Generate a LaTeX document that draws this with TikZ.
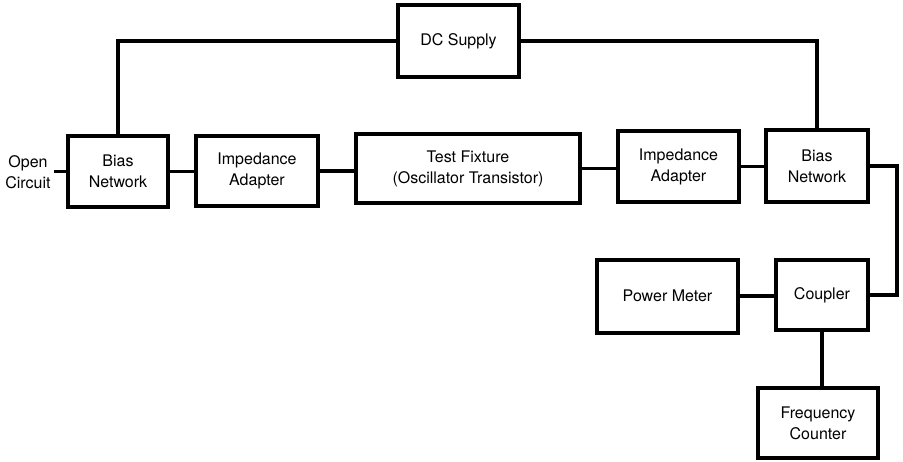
\documentclass[tikz,border=0pt]{standalone}
\usepackage{fontspec}
\setmainfont{TeX Gyre Heros}
\begin{document}
\begin{tikzpicture}[x=1pt,y=-1pt,line width=3.6pt,
  blk/.style={draw,line width=4pt,align=center,inner sep=2pt,
    font=\fontsize{16}{21}\selectfont},
  lbl/.style={align=center,inner sep=2pt,font=\fontsize{16}{21}\selectfont}]
\useasboundingbox[fill=white] (0,0) rectangle (903,461);

\node[blk,minimum width=121,minimum height=72] (dc) at (458.5,41) {DC Supply};

\node[lbl] (oc) at (28,172) {Open\\Circuit};
\node[blk,minimum width=100,minimum height=71] (biasL) at (118,171.5) {Bias\\Network};
\node[blk,minimum width=122,minimum height=70] (impL) at (257,171) {Impedance\\Adapter};
\node[blk,minimum width=224,minimum height=69] (fix) at (468,168.5) {Test Fixture\\(Oscillator Transistor)};
\node[blk,minimum width=121,minimum height=71] (impR) at (678.5,166.5) {Impedance\\Adapter};
\node[blk,minimum width=102,minimum height=72] (biasR) at (817,166) {Bias\\Network};

\node[blk,minimum width=141,minimum height=73] (pm) at (667.5,296) {Power Meter};
\node[blk,minimum width=92,minimum height=70] (cpl) at (822,295) {Coupler};
\node[blk,minimum width=120,minimum height=70] (fc) at (818,423) {Frequency\\Counter};

\coordinate (turn) at (897,166);

\draw (oc.east |- biasL.west) -- (biasL.west);
\draw (biasL.east) -- (biasL.east -| impL.west);
\draw (impL.east) -- (impL.east -| fix.west);
\draw (fix.east) -- (fix.east -| impR.west);
\draw (impR.east) -- (impR.east -| biasR.west);
\draw (dc.west) -| (biasL.north);
\draw (dc.east) -| (biasR.north);
\draw (biasR.east) -- (turn) |- (cpl.east);
\draw (pm.east) -- (pm.east -| cpl.west);
\draw (cpl.south) -- (cpl.south |- fc.north);
\end{tikzpicture}
\end{document}
